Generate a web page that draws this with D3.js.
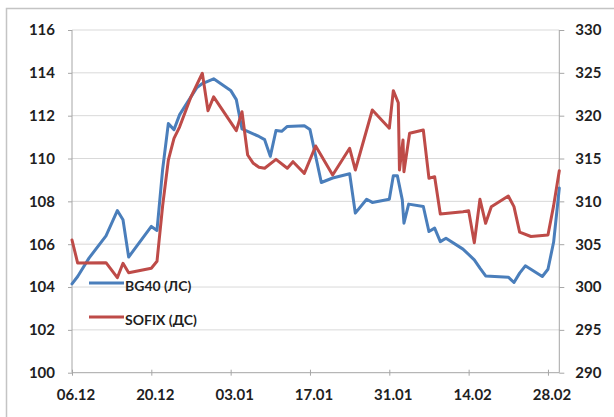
<!DOCTYPE html>
<html>
<head>
<meta charset="utf-8">
<script src="https://cdn.jsdelivr.net/npm/d3@7"></script>
<style>
  html, body { margin: 0; padding: 0; background: #ffffff; }
  svg { display: block; }
  text { font-family: Lato, "Open Sans", "DejaVu Sans", sans-serif; font-weight: bold; fill: #1f1f1f; }
</style>
</head>
<body>
<svg id="chart" width="614" height="417"></svg>
<script>
// ---------- DATA ----------
const xTickLabels = ["06.12", "20.12", "03.01", "17.01", "31.01", "14.02", "28.02"];
const xTickDates  = ["2010-12-06", "2010-12-20", "2011-01-03", "2011-01-17", "2011-01-31", "2011-02-14", "2011-02-28"];
const leftTicks  = [100, 102, 104, 106, 108, 110, 112, 114, 116];
const rightTicks = [290, 295, 300, 305, 310, 315, 320, 325, 330];
const seriesNames = ["BG40 (ЛС)", "SOFIX (ДС)"];

const bg40Dates = [
  "2010-12-06", "2010-12-07", "2010-12-09", "2010-12-12", "2010-12-14", "2010-12-15", "2010-12-16",
  "2010-12-20", "2010-12-21", "2010-12-22", "2010-12-23", "2010-12-24", "2010-12-25", "2010-12-28",
  "2010-12-29", "2010-12-31", "2011-01-03", "2011-01-04", "2011-01-05", "2011-01-08", "2011-01-09",
  "2011-01-10", "2011-01-11", "2011-01-12", "2011-01-13", "2011-01-16", "2011-01-17", "2011-01-19",
  "2011-01-21", "2011-01-24", "2011-01-25", "2011-01-27", "2011-01-28", "2011-01-31", "2011-01-31 17",
  "2011-02-01 10", "2011-02-02 07", "2011-02-02 14", "2011-02-03 10", "2011-02-06", "2011-02-07",
  "2011-02-08", "2011-02-09", "2011-02-10", "2011-02-13", "2011-02-15", "2011-02-16", "2011-02-17",
  "2011-02-21", "2011-02-22", "2011-02-23", "2011-02-24", "2011-02-27", "2011-02-28", "2011-03-01",
  "2011-03-02"
];
const bg40Values = [
  104.15, 104.49, 105.35, 106.39, 107.57, 107.14, 105.40,
  106.83, 106.64, 109.50, 111.63, 111.35, 112.05, 113.30,
  113.50, 113.72, 113.18, 112.75, 111.38, 111.03, 110.88,
  110.10, 111.31, 111.27, 111.50, 111.53, 111.35, 108.88,
  109.09, 109.29, 107.45, 108.10, 107.95, 108.10, 109.20,
  109.20, 108.07, 106.98, 107.87, 107.76, 106.59,
  106.75, 106.12, 106.28, 105.77, 105.27, 104.88, 104.52,
  104.46, 104.21, 104.65, 104.99, 104.49, 104.83, 106.10,
  108.62
];

const sofixDates = [
  "2010-12-06", "2010-12-07", "2010-12-12", "2010-12-14", "2010-12-15", "2010-12-16", "2010-12-20",
  "2010-12-21", "2010-12-22", "2010-12-23", "2010-12-24", "2010-12-25", "2010-12-27", "2010-12-29",
  "2010-12-30", "2010-12-31", "2011-01-04", "2011-01-05", "2011-01-06", "2011-01-07", "2011-01-08",
  "2011-01-09", "2011-01-11", "2011-01-13", "2011-01-14", "2011-01-16", "2011-01-18", "2011-01-21",
  "2011-01-24", "2011-01-25", "2011-01-28", "2011-01-31", "2011-01-31 17", "2011-02-01 14",
  "2011-02-01 19", "2011-02-02 10", "2011-02-02 14", "2011-02-03 14", "2011-02-06", "2011-02-07",
  "2011-02-08", "2011-02-09", "2011-02-13", "2011-02-14", "2011-02-15", "2011-02-16", "2011-02-17",
  "2011-02-18", "2011-02-21", "2011-02-22", "2011-02-23", "2011-02-25", "2011-02-28", "2011-03-01",
  "2011-03-02"
];
const sofixValues = [
  305.49, 302.80, 302.84, 301.09, 302.77, 301.67, 302.19,
  303.00, 309.50, 314.80, 317.36, 318.70, 322.20, 324.95,
  320.58, 322.20, 318.25, 320.46, 315.41, 314.44, 313.97,
  313.86, 314.90, 313.86, 314.63, 313.27, 316.46, 313.07,
  316.19, 313.66, 320.66, 318.53, 322.92, 321.51,
  313.66, 317.17, 313.46, 317.94, 318.33, 312.69,
  312.88, 308.52, 308.79, 308.90, 305.17, 310.24, 307.44,
  309.38, 310.62, 309.38, 306.40, 305.90, 306.07, 309.50,
  313.58
];

// ---------- HELPERS ----------
const parseDay = d3.timeParse("%Y-%m-%d");
function parse(s) {
  const [d, h] = s.split(" ");
  const t = parseDay(d);
  if (h) t.setHours(+h);
  return t;
}

const W = 614, H = 417;
const plot = { left: 72, right: 559.3, top: 30, bottom: 372.7 };
const colors = { bg40: "#4a7ebb", sofix: "#be4b48", grid: "#d9d9d9", axis: "#a6a6a6" };

const svg = d3.select("#chart");

// outer chart frame
svg.append("rect").attr("x", 0).attr("y", 0).attr("width", W).attr("height", H).attr("fill", "#ffffff");
svg.append("rect")
  .attr("x", 6.5).attr("y", 8.5).attr("width", W + 20).attr("height", H + 20)
  .attr("fill", "none").attr("stroke", "#c4c4c4").attr("stroke-width", 1.5);

const x = d3.scaleTime()
  .domain([parse("2010-12-06"), parse("2011-03-02")])
  .range([plot.left, plot.right]);
const yL = d3.scaleLinear().domain([100, 116]).range([plot.bottom, plot.top]);
const yR = d3.scaleLinear().domain([290, 330]).range([plot.bottom, plot.top]);

// gridlines
svg.append("g").selectAll("line").data(leftTicks.filter(v => v !== 100)).join("line")
  .attr("x1", plot.left).attr("x2", plot.right)
  .attr("y1", d => yL(d)).attr("y2", d => yL(d))
  .attr("stroke", colors.grid).attr("stroke-width", 1);

// left axis
const gL = svg.append("g").attr("transform", `translate(${plot.left},0)`)
  .call(d3.axisLeft(yL).tickValues(leftTicks).tickSize(4).tickPadding(13).tickFormat(d3.format("d")));
// right axis
const gR = svg.append("g").attr("transform", `translate(${plot.right},0)`)
  .call(d3.axisRight(yR).tickValues(rightTicks).tickSize(5).tickPadding(11).tickFormat(d3.format("d")));
// bottom axis
const gB = svg.append("g").attr("transform", `translate(0,${plot.bottom})`)
  .call(d3.axisBottom(x).tickValues(xTickDates.map(parse)).tickSize(3)
    .tickFormat((d, i) => xTickLabels[i]));

[gL, gR, gB].forEach(g => {
  g.select(".domain").attr("stroke", colors.axis).attr("stroke-width", 1);
  g.selectAll(".tick line").attr("stroke", colors.axis);
  g.selectAll("text").attr("font-size", 15).attr("fill", "#1f1f1f")
    .style("font-family", "Lato, 'Open Sans', sans-serif").style("font-weight", "bold");
});
gL.select(".domain").attr("d", `M0,${plot.top}V${plot.bottom}`);
gR.select(".domain").attr("d", `M0,${plot.top}V${plot.bottom}`);
gB.select(".domain").attr("d", `M${plot.left},0H${plot.right}`);
gB.selectAll(".tick line").attr("y1", -3).attr("y2", 3);
gB.selectAll(".tick text").attr("y", 27.3).attr("dy", null).attr("dx", 3.5);

// lines
const bg40 = bg40Dates.map((d, i) => ({ t: parse(d), v: bg40Values[i] }));
const sofix = sofixDates.map((d, i) => ({ t: parse(d), v: sofixValues[i] }));

const lineL = d3.line().x(d => x(d.t)).y(d => yL(d.v));
const lineR = d3.line().x(d => x(d.t)).y(d => yR(d.v));

svg.append("path").datum(bg40).attr("d", lineL)
  .attr("fill", "none").attr("stroke", colors.bg40).attr("stroke-width", 3)
  .attr("stroke-linejoin", "round").attr("stroke-linecap", "round");
svg.append("path").datum(sofix).attr("d", lineR)
  .attr("fill", "none").attr("stroke", colors.sofix).attr("stroke-width", 3)
  .attr("stroke-linejoin", "round").attr("stroke-linecap", "round");

// legend
const legend = svg.append("g");
const legendItems = [
  { name: seriesNames[0], color: colors.bg40, y: 283 },
  { name: seriesNames[1], color: colors.sofix, y: 317 }
];
legendItems.forEach(it => {
  legend.append("line").attr("x1", 89).attr("x2", 124).attr("y1", it.y).attr("y2", it.y)
    .attr("stroke", it.color).attr("stroke-width", 3);
  legend.append("text").attr("x", 125).attr("y", it.y + 2).attr("dominant-baseline", "central")
    .attr("font-size", 14).text(it.name);
});
</script>
</body>
</html>
